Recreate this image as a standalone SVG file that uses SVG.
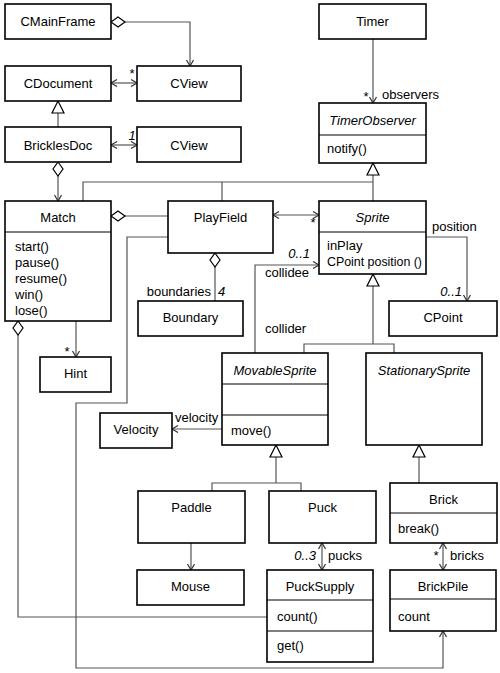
<svg xmlns="http://www.w3.org/2000/svg" width="500" height="673" viewBox="0 0 500 673">
<style>
text{font-family:"Liberation Sans",Arial,sans-serif;font-size:13px;fill:#000}
.c{text-anchor:middle}
.e{text-anchor:end}
.i{font-style:italic}
.box{fill:#fff;stroke:#000;stroke-width:1.6}
.div{stroke:#000;stroke-width:1}
.ln{fill:none;stroke:#555;stroke-width:1.2}
.arr{marker-end:url(#arrow)}
.dbl{marker-start:url(#arrow);marker-end:url(#arrow)}
.gen{marker-end:url(#tri)}
.agg{marker-start:url(#dia)}
</style>
<defs>
<marker id="arrow" viewBox="-8 -5 10 10" refX="0" refY="0" markerWidth="10" markerHeight="10" markerUnits="userSpaceOnUse" orient="auto-start-reverse">
<path d="M-6,-3.5 L0,0 L-6,3.5" fill="none" stroke="#333" stroke-width="1.2"/>
</marker>
<marker id="tri" viewBox="-14 -8 16 16" refX="0" refY="0" markerWidth="16" markerHeight="16" markerUnits="userSpaceOnUse" orient="auto">
<path d="M0,0 L-12,-6 L-12,6 Z" fill="#fff" stroke="#000" stroke-width="1.2"/>
</marker>
<marker id="dia" viewBox="-1 -7 17 14" refX="0" refY="0" markerWidth="17" markerHeight="14" markerUnits="userSpaceOnUse" orient="auto">
<path d="M0,0 L7,-5 L14,0 L7,5 Z" fill="#fff" stroke="#000" stroke-width="1.2"/>
</marker>
</defs>
<rect width="500" height="673" fill="#fff"/>

<g id="connectors">
<path class="ln agg arr" d="M111,22 H190 V66"/>
<path class="ln dbl" d="M111,83 H137"/>
<text x="132" y="78" class="c">*</text>
<path class="ln gen" d="M58,127 V101"/>
<path class="ln dbl" d="M111,145 H137"/>
<text x="132" y="140" class="c i">1</text>
<path class="ln agg arr" d="M58,162 V201"/>
<path class="ln arr" d="M373,39 V103"/>
<text x="366" y="101" class="c">*</text>
<text x="382" y="99">observers</text>
<path class="ln" d="M83,201 V182 H373"/>
<path class="ln" d="M222,201 V182"/>
<path class="ln gen" d="M373,201 V163"/>
<path class="ln agg" d="M111,216 H168"/>
<path class="ln dbl" d="M273,215 H319"/>
<text x="313" y="227" class="c">*</text>
<path class="ln agg" d="M215,253 V301"/>
<text x="211" y="296" class="e">boundaries</text>
<text x="218" y="296" class="i">4</text>
<path class="ln arr" d="M76,321 V357"/>
<text x="67" y="356" class="c">*</text>
<path class="ln arr" d="M168,237 H127 V403 H76 V668 H443 V631"/>
<path class="ln agg" d="M18,321 V617 H267"/>
<path class="ln arr" d="M426,237 H467 V301"/>
<text x="432" y="231">position</text>
<text x="462" y="296" class="e i">0..1</text>
<path class="ln arr" d="M255,353 V265 H319"/>
<text x="310" y="258" class="e i">0..1</text>
<text x="265" y="277">collidee</text>
<text x="265" y="333">collider</text>
<path class="ln" d="M304,353 V344 H394 V353"/>
<path class="ln gen" d="M373,344 V274"/>
<path class="ln arr" d="M222,429 H172"/>
<text x="175" y="422">velocity</text>
<path class="ln" d="M212,491 V483 H301 V491"/>
<path class="ln gen" d="M276,483 V445"/>
<path class="ln gen" d="M419,483 V445"/>
<path class="ln arr" d="M191,543 V570"/>
<path class="ln dbl" d="M322,543 V570"/>
<text x="316" y="560" class="e i">0..3</text>
<text x="328" y="560">pucks</text>
<path class="ln dbl" d="M443,543 V570"/>
<text x="438" y="560" class="e i">*</text>
<text x="450" y="560">bricks</text>
</g>

<g id="CMainFrame"><rect class="box" x="5" y="4" width="106" height="35"/><text x="58" y="26" class="c">CMainFrame</text></g>
<g id="CDocument"><rect class="box" x="5" y="66" width="106" height="35"/><text x="58" y="88" class="c">CDocument</text></g>
<g id="CView1"><rect class="box" x="137" y="66" width="104" height="35"/><text x="189" y="88" class="c">CView</text></g>
<g id="BricklesDoc"><rect class="box" x="5" y="127" width="106" height="35"/><text x="58" y="150" class="c">BricklesDoc</text></g>
<g id="CView2"><rect class="box" x="137" y="127" width="104" height="35"/><text x="189" y="150" class="c">CView</text></g>
<g id="Timer"><rect class="box" x="319" y="4" width="107" height="35"/><text x="372.5" y="26" class="c">Timer</text></g>
<g id="TimerObserver"><rect class="box" x="319" y="103" width="107" height="60"/><line class="div" x1="319" y1="135" x2="426" y2="135"/><text x="372.5" y="125" class="c i">TimerObserver</text><text x="327" y="153">notify()</text></g>
<g id="Match"><rect class="box" x="5" y="201" width="106" height="120"/><line class="div" x1="5" y1="232" x2="111" y2="232"/><text x="58" y="222" class="c">Match</text>
<text x="15" y="251">start()</text><text x="15" y="267">pause()</text><text x="15" y="283">resume()</text><text x="15" y="299">win()</text><text x="15" y="315">lose()</text></g>
<g id="PlayField"><rect class="box" x="168" y="201" width="105" height="52"/><text x="220.5" y="222" class="c">PlayField</text></g>
<g id="Sprite"><rect class="box" x="319" y="201" width="107" height="73"/><line class="div" x1="319" y1="232" x2="426" y2="232"/><text x="372.5" y="222" class="c i">Sprite</text><text x="327" y="250">inPlay</text><text x="327" y="266" textLength="95" lengthAdjust="spacingAndGlyphs">CPoint position ()</text></g>
<g id="Boundary"><rect class="box" x="138" y="301" width="105" height="35"/><text x="190.5" y="322" class="c">Boundary</text></g>
<g id="CPoint"><rect class="box" x="389" y="301" width="108" height="35"/><text x="443" y="322" class="c">CPoint</text></g>
<g id="Hint"><rect class="box" x="40" y="357" width="71" height="35"/><text x="75.5" y="378" class="c">Hint</text></g>
<g id="MovableSprite"><rect class="box" x="222" y="353" width="106" height="92"/><line class="div" x1="222" y1="384" x2="328" y2="384"/><line class="div" x1="222" y1="415" x2="328" y2="415"/><text x="275" y="375" class="c i">MovableSprite</text><text x="231" y="435">move()</text></g>
<g id="StationarySprite"><rect class="box" x="366" y="353" width="116" height="92"/><text x="424" y="375" class="c i">StationarySprite</text></g>
<g id="Velocity"><rect class="box" x="100" y="413" width="72" height="35"/><text x="136" y="434" class="c">Velocity</text></g>
<g id="Paddle"><rect class="box" x="138" y="491" width="107" height="52"/><text x="191.5" y="512" class="c">Paddle</text></g>
<g id="Puck"><rect class="box" x="269" y="491" width="107" height="52"/><text x="322.5" y="512" class="c">Puck</text></g>
<g id="Brick"><rect class="box" x="390" y="483" width="107" height="60"/><line class="div" x1="390" y1="513" x2="497" y2="513"/><text x="443.5" y="504" class="c">Brick</text><text x="398" y="533">break()</text></g>
<g id="Mouse"><rect class="box" x="137" y="570" width="107" height="35"/><text x="190.5" y="591" class="c">Mouse</text></g>
<g id="PuckSupply"><rect class="box" x="267" y="570" width="106" height="92"/><line class="div" x1="267" y1="600" x2="373" y2="600"/><line class="div" x1="267" y1="631" x2="373" y2="631"/><text x="320" y="591" class="c">PuckSupply</text><text x="277" y="621">count()</text><text x="277" y="650">get()</text></g>
<g id="BrickPile"><rect class="box" x="390" y="570" width="106" height="61"/><line class="div" x1="390" y1="599" x2="496" y2="599"/><text x="443" y="591" class="c">BrickPile</text><text x="398" y="621">count</text></g>
</svg>
